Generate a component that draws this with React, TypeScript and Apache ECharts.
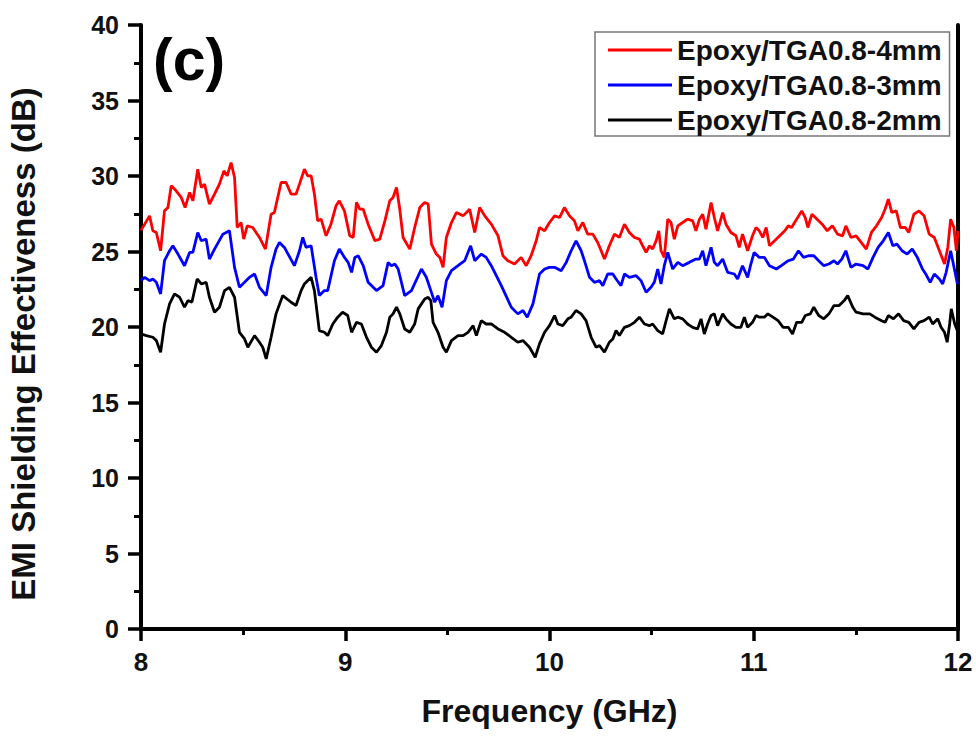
import React, { useEffect, useRef } from "react";
import * as echarts from "echarts";

const seriesNames = ["Epoxy/TGA0.8-4mm", "Epoxy/TGA0.8-3mm", "Epoxy/TGA0.8-2mm"];
const seriesColors = ["#ff0000", "#0000ff", "#000000"];
const xTicks = { min: 8, max: 12, interval: 1 };
const yTicks = { min: 0, max: 40, interval: 5 };
const xTitle = "Frequency (GHz)";
const yTitle = "EMI Shielding Effectiveness (dB)";
const panelLabel = "(c)";

const epoxy4mm: [number, number][] = [
  [8.0, 26.4], [8.042, 27.36], [8.058, 26.37], [8.075, 26.26], [8.096, 25.05], [8.115, 27.69], [8.132, 27.91],
  [8.148, 29.35], [8.172, 29.02], [8.197, 28.58], [8.216, 27.91], [8.238, 28.91], [8.254, 28.36], [8.278, 30.45],
  [8.295, 29.24], [8.311, 29.46], [8.335, 28.14], [8.36, 28.8], [8.384, 29.46], [8.406, 30.34], [8.422, 30.01],
  [8.441, 30.89], [8.458, 29.9], [8.471, 26.59], [8.49, 26.92], [8.503, 25.82], [8.52, 26.7], [8.547, 26.59],
  [8.58, 25.93], [8.609, 25.16], [8.637, 27.47], [8.653, 27.58], [8.686, 29.57], [8.71, 29.57], [8.735, 28.8],
  [8.759, 28.8], [8.776, 29.46], [8.8, 30.45], [8.816, 30.01], [8.833, 30.01], [8.849, 28.8], [8.865, 27.03],
  [8.882, 27.14], [8.906, 26.04], [8.93, 26.81], [8.955, 28.03], [8.971, 28.36], [8.996, 27.69],
  [9.022, 26.04], [9.039, 25.93], [9.055, 28.25], [9.071, 27.8], [9.088, 27.8], [9.112, 26.81], [9.145, 25.71],
  [9.169, 25.82], [9.194, 27.03], [9.218, 28.36], [9.234, 28.58], [9.251, 29.24], [9.267, 27.8], [9.283, 25.93],
  [9.316, 25.16], [9.34, 26.59], [9.365, 27.91], [9.389, 28.25], [9.406, 28.14], [9.422, 25.49], [9.446, 24.83],
  [9.463, 24.61], [9.479, 23.95], [9.495, 25.93], [9.52, 26.92], [9.544, 27.58], [9.577, 27.36], [9.609, 27.8],
  [9.634, 26.26], [9.658, 27.91], [9.683, 27.36], [9.715, 26.81], [9.748, 26.04], [9.772, 24.72], [9.796, 24.39],
  [9.829, 24.17], [9.861, 24.61], [9.886, 24.06], [9.91, 24.72], [9.935, 25.71], [9.951, 26.59], [9.976, 26.37],
  [10.0, 26.92], [10.025, 27.36],
  [10.049, 27.25], [10.073, 27.91], [10.098, 27.36], [10.122, 27.03], [10.139, 26.37], [10.163, 26.92],
  [10.187, 26.15], [10.212, 26.15], [10.236, 25.6], [10.253, 25.05], [10.269, 24.5], [10.293, 25.38],
  [10.318, 26.15], [10.342, 25.93], [10.367, 26.81], [10.391, 26.26], [10.416, 25.93], [10.44, 25.82],
  [10.456, 25.38], [10.473, 24.94], [10.489, 25.38], [10.505, 25.16], [10.522, 25.71], [10.535, 26.37],
  [10.546, 25.05], [10.562, 24.61], [10.579, 27.14], [10.595, 26.92], [10.611, 25.82], [10.628, 26.7],
  [10.652, 26.92], [10.676, 27.14], [10.701, 27.03], [10.717, 26.37], [10.734, 27.14], [10.75, 27.47],
  [10.766, 26.48], [10.791, 28.25], [10.807, 27.25], [10.823, 26.37], [10.848, 27.58], [10.864, 26.81],
  [10.888, 26.26], [10.913, 26.04], [10.929, 25.27], [10.945, 26.15], [10.97, 25.05], [10.994, 26.04],
  [11.011, 26.59], [11.027, 26.37],
  [11.044, 25.93], [11.061, 26.59], [11.077, 25.38], [11.102, 25.71], [11.127, 26.04], [11.152, 26.37],
  [11.169, 26.7], [11.185, 26.59], [11.21, 27.14], [11.235, 27.69], [11.252, 27.25], [11.265, 26.59],
  [11.285, 27.47], [11.31, 27.14], [11.335, 26.81], [11.36, 26.37], [11.385, 26.7], [11.41, 26.15],
  [11.435, 26.04], [11.451, 26.7], [11.476, 25.93], [11.501, 26.04], [11.526, 25.6], [11.551, 25.16],
  [11.576, 26.26], [11.601, 26.7], [11.626, 27.25], [11.643, 27.8], [11.659, 28.47], [11.676, 27.58],
  [11.698, 27.69], [11.718, 26.59], [11.742, 26.59], [11.759, 26.26], [11.784, 27.47], [11.809, 27.69],
  [11.834, 27.36], [11.859, 26.15], [11.884, 25.93], [11.909, 25.05], [11.934, 24.17], [11.95, 25.27],
  [11.964, 27.14], [11.98, 26.59], [11.992, 25.05], [12.0, 26.37],
];

const epoxy3mm: [number, number][] = [
  [8.0, 23.07], [8.018, 23.29], [8.042, 23.07], [8.058, 23.18], [8.075, 22.96], [8.096, 22.19], [8.115, 24.39],
  [8.14, 25.05], [8.156, 25.38], [8.181, 24.83], [8.213, 24.06], [8.238, 24.94], [8.254, 24.94], [8.278, 26.26],
  [8.295, 25.71], [8.319, 25.82], [8.335, 24.5], [8.36, 25.16], [8.401, 26.15], [8.433, 26.37], [8.458, 23.95],
  [8.482, 22.63], [8.507, 22.96], [8.531, 23.29], [8.556, 23.51], [8.58, 22.63], [8.613, 22.08], [8.637, 23.95],
  [8.661, 25.16], [8.678, 25.6], [8.702, 25.27], [8.751, 24.06], [8.776, 25.05], [8.792, 25.93], [8.808, 25.27],
  [8.833, 25.38], [8.857, 23.29], [8.873, 22.08], [8.898, 22.41], [8.914, 22.41], [8.947, 24.39], [8.971, 25.16],
  [8.996, 24.61],
  [9.014, 24.28], [9.031, 23.62], [9.047, 24.61], [9.063, 24.72], [9.088, 24.06], [9.112, 22.96], [9.153, 22.41],
  [9.185, 22.74], [9.21, 24.28], [9.226, 24.06], [9.243, 24.17], [9.259, 23.84], [9.291, 22.08], [9.324, 22.41],
  [9.373, 23.84], [9.397, 23.29], [9.419, 22.41], [9.438, 21.64], [9.454, 22.08], [9.474, 21.31], [9.495, 23.07],
  [9.52, 23.73], [9.552, 24.06], [9.585, 24.39], [9.614, 25.38], [9.634, 24.39], [9.666, 24.83], [9.69, 24.61],
  [9.715, 24.06], [9.764, 22.74], [9.813, 21.31], [9.845, 20.87], [9.87, 21.09], [9.891, 20.65], [9.919, 21.53],
  [9.951, 23.51], [9.976, 23.84], [10.0, 23.95], [10.025, 23.95],
  [10.057, 23.73], [10.082, 24.28], [10.106, 25.05], [10.13, 25.71], [10.155, 25.05], [10.171, 24.39],
  [10.196, 23.29], [10.22, 22.96], [10.245, 23.07], [10.261, 22.74], [10.285, 23.51], [10.31, 23.51],
  [10.326, 23.18], [10.35, 22.74], [10.367, 23.51], [10.391, 23.29], [10.424, 23.4], [10.448, 23.07],
  [10.473, 22.3], [10.497, 22.63], [10.513, 22.96], [10.53, 23.84], [10.546, 22.85], [10.562, 24.06],
  [10.579, 24.94], [10.603, 23.84], [10.628, 24.28], [10.652, 24.06], [10.685, 24.28], [10.717, 24.5],
  [10.734, 24.5], [10.75, 25.05], [10.766, 24.06], [10.791, 25.27], [10.807, 24.28], [10.823, 24.06],
  [10.848, 24.5], [10.872, 23.62], [10.905, 23.51], [10.921, 23.18], [10.945, 24.06], [10.97, 23.29],
  [10.986, 24.17], [11.002, 24.94], [11.027, 24.61],
  [11.052, 24.61], [11.077, 24.06], [11.111, 23.84], [11.135, 24.06], [11.169, 24.39], [11.194, 24.5],
  [11.219, 25.05], [11.244, 24.61], [11.268, 24.72], [11.294, 24.72], [11.318, 24.39], [11.343, 24.06],
  [11.368, 24.17], [11.393, 24.39], [11.41, 24.17], [11.431, 24.5], [11.451, 25.05], [11.476, 23.95],
  [11.501, 24.17], [11.535, 24.06], [11.559, 23.84], [11.584, 24.61], [11.609, 25.27], [11.634, 25.71],
  [11.659, 26.26], [11.681, 25.38], [11.701, 25.49], [11.726, 25.05], [11.751, 24.83], [11.776, 25.16],
  [11.801, 24.61], [11.826, 23.84], [11.842, 23.51], [11.864, 22.96], [11.884, 23.51], [11.909, 23.18],
  [11.925, 22.85], [11.942, 23.62], [11.964, 25.05], [11.984, 23.73], [11.997, 22.85],
];

const epoxy2mm: [number, number][] = [
  [8.0, 19.54], [8.026, 19.43], [8.058, 19.32], [8.075, 19.1], [8.096, 18.33], [8.115, 20.2], [8.14, 21.53],
  [8.164, 22.19], [8.189, 21.97], [8.213, 21.31], [8.23, 21.75], [8.249, 21.64], [8.275, 23.18], [8.295, 22.85],
  [8.319, 22.96], [8.335, 21.97], [8.36, 20.98], [8.384, 21.31], [8.409, 22.41], [8.433, 22.63], [8.458, 21.97],
  [8.482, 19.65], [8.507, 19.21], [8.523, 18.66], [8.556, 19.43], [8.58, 18.99], [8.596, 18.66], [8.613, 17.89],
  [8.637, 19.32], [8.661, 20.87], [8.694, 22.08], [8.735, 21.64], [8.759, 21.42], [8.784, 22.41], [8.8, 22.85],
  [8.833, 23.29], [8.849, 22.41], [8.873, 19.76], [8.898, 19.65], [8.914, 19.43], [8.939, 20.2], [8.963, 20.65],
  [8.987, 20.98], [9.012, 20.76],
  [9.031, 19.65], [9.055, 20.31], [9.079, 20.2], [9.104, 19.32], [9.128, 18.66], [9.153, 18.33], [9.177, 18.77],
  [9.202, 19.65], [9.218, 20.65], [9.234, 20.87], [9.251, 21.31], [9.267, 20.87], [9.291, 19.87], [9.316, 19.65],
  [9.34, 20.2], [9.357, 21.2], [9.389, 21.86], [9.406, 21.97], [9.419, 21.75], [9.43, 20.31], [9.454, 19.65],
  [9.479, 18.66], [9.495, 18.33], [9.52, 19.1], [9.552, 19.43], [9.577, 19.43], [9.601, 19.65], [9.626, 20.09],
  [9.642, 19.43], [9.666, 20.42], [9.69, 20.2], [9.715, 20.2], [9.748, 19.87], [9.78, 19.65], [9.813, 19.32],
  [9.845, 18.99], [9.87, 19.1], [9.902, 18.66], [9.93, 18.0], [9.951, 18.88], [9.976, 19.65], [10.0, 20.09],
  [10.025, 20.76],
  [10.041, 20.2], [10.065, 20.09], [10.09, 20.54], [10.106, 20.65], [10.13, 21.09], [10.155, 20.87],
  [10.179, 20.42], [10.204, 19.32], [10.228, 18.66], [10.245, 18.77], [10.269, 18.33], [10.293, 18.99],
  [10.31, 19.21], [10.326, 19.76], [10.342, 19.43], [10.367, 19.98], [10.391, 20.09], [10.416, 20.31],
  [10.44, 20.65], [10.465, 20.2], [10.489, 20.09], [10.505, 20.2], [10.53, 19.76], [10.554, 19.54],
  [10.571, 20.42], [10.587, 21.2], [10.611, 20.54], [10.628, 20.65], [10.652, 20.54], [10.676, 20.2],
  [10.701, 19.98], [10.725, 19.87], [10.742, 20.54], [10.758, 19.54], [10.774, 20.2], [10.791, 20.76],
  [10.807, 20.87], [10.823, 20.09], [10.848, 20.87], [10.864, 20.54], [10.888, 20.2], [10.913, 19.98],
  [10.937, 19.98], [10.954, 20.65], [10.97, 19.98], [10.994, 20.31], [11.011, 20.76], [11.027, 20.65],
  [11.052, 20.65], [11.069, 20.87], [11.094, 20.65], [11.119, 20.42], [11.144, 19.98], [11.169, 19.98],
  [11.19, 19.54], [11.21, 20.31], [11.235, 20.31], [11.252, 20.76], [11.277, 20.87], [11.294, 21.31],
  [11.318, 20.76], [11.343, 20.54], [11.368, 20.87], [11.393, 21.42], [11.418, 21.42], [11.443, 21.75],
  [11.46, 22.08], [11.485, 21.31], [11.501, 20.98], [11.535, 20.87], [11.568, 20.87], [11.593, 20.65],
  [11.626, 20.42], [11.643, 20.31], [11.659, 20.76], [11.684, 20.54], [11.709, 20.87], [11.734, 20.42],
  [11.759, 20.31], [11.784, 19.87], [11.809, 20.31], [11.834, 20.42], [11.859, 20.65], [11.876, 20.2],
  [11.901, 20.54], [11.917, 19.98], [11.934, 19.65], [11.947, 18.99], [11.959, 20.2], [11.967, 21.2],
  [11.984, 20.2], [11.997, 19.76],
];

const seriesData = [epoxy4mm, epoxy3mm, epoxy2mm];

const FONT = "'Liberation Sans', Arial, sans-serif";

export default function App() {
  const ref = useRef<HTMLDivElement>(null);
  useEffect(() => {
    if (!ref.current) return;
    const chart = echarts.init(ref.current, undefined, { renderer: "svg" });
    const axisLine = { show: true, lineStyle: { color: "#000", width: 4 } };
    chart.setOption({
      animation: false,
      backgroundColor: "#fff",
      grid: { left: 141, right: 18, top: 25, bottom: 107, containLabel: false },
      legend: {
        data: seriesNames.map((n) => ({ name: n, icon: "rect" })),
        orient: "vertical",
        left: 595,
        top: 32,
        itemWidth: 64,
        itemHeight: 3,
        itemGap: 7,
        padding: [4, 8, 2, 13],
        borderColor: "#777",
        borderWidth: 1.5,
        backgroundColor: "#fff",
        textStyle: { fontFamily: FONT, fontWeight: "bold", fontSize: 28, lineHeight: 28, color: "#111" },
      },
      xAxis: [
        {
          type: "value",
          min: xTicks.min,
          max: xTicks.max,
          interval: xTicks.interval,
          position: "bottom",
          axisLine,
          axisTick: { show: true, length: 12, lineStyle: { color: "#000", width: 3.5 } },
          minorTick: { show: true, splitNumber: 2, length: 6, lineStyle: { color: "#000", width: 3 } },
          splitLine: { show: false },
          axisLabel: { fontFamily: FONT, fontWeight: "bold", fontSize: 26, color: "#111", margin: 20 },
          name: xTitle,
          nameLocation: "middle",
          nameGap: 66,
          nameTextStyle: { fontFamily: FONT, fontWeight: "bold", fontSize: 32, color: "#111" },
        },
        {
          type: "value",
          min: xTicks.min,
          max: xTicks.max,
          position: "top",
          axisLine,
          axisTick: { show: false },
          axisLabel: { show: false },
          splitLine: { show: false },
        },
      ],
      yAxis: [
        {
          type: "value",
          min: yTicks.min,
          max: yTicks.max,
          interval: yTicks.interval,
          position: "left",
          axisLine,
          axisTick: { show: true, length: 13, lineStyle: { color: "#000", width: 3.5 } },
          minorTick: { show: true, splitNumber: 2, length: 7, lineStyle: { color: "#000", width: 3 } },
          splitLine: { show: false },
          axisLabel: { fontFamily: FONT, fontWeight: "bold", fontSize: 25, color: "#111", margin: 22 },
        },
        {
          type: "value",
          min: yTicks.min,
          max: yTicks.max,
          position: "right",
          axisLine,
          axisTick: { show: false },
          axisLabel: { show: false },
          splitLine: { show: false },
        },
      ],
      graphic: [
        {
          type: "text",
          left: 153,
          top: 30,
          style: { text: panelLabel, font: `bold 59px ${FONT}`, fill: "#000" },
        },
        {
          type: "text",
          x: 23,
          y: 344,
          rotation: Math.PI / 2,
          style: {
            text: yTitle,
            font: `bold 33px ${FONT}`,
            fill: "#111",
            align: "center",
            verticalAlign: "middle",
          },
        },
      ],
      series: seriesData.map((d, i) => ({
        name: seriesNames[i],
        type: "line",
        data: d,
        showSymbol: false,
        symbol: "none",
        lineStyle: { color: seriesColors[i], width: 2.8 },
        itemStyle: { color: seriesColors[i] },
        z: 10 - i,
      })),
    });
    return () => chart.dispose();
  }, []);
  return (
    <div
      ref={ref}
      style={{ position: "fixed", left: 0, top: 0, width: 976, height: 736, background: "#fff" }}
    />
  );
}
